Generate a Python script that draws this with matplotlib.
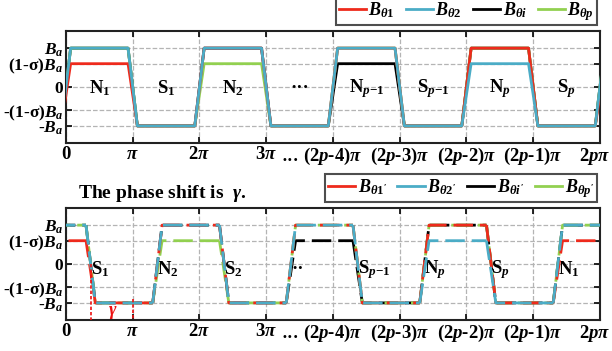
import numpy as np
import matplotlib.pyplot as plt
import matplotlib.transforms as mtransforms
from matplotlib.lines import Line2D

plt.rcParams['font.family'] = 'Liberation Serif'
plt.rcParams['font.weight'] = 'bold'
plt.rcParams['mathtext.fontset'] = 'custom'
plt.rcParams['mathtext.rm'] = 'Liberation Serif:bold'
plt.rcParams['mathtext.it'] = 'Liberation Serif:italic:bold'
plt.rcParams['mathtext.bf'] = 'Liberation Serif:bold'

# pole amplitudes over the 2p half-periods (fraction of B_a, N positive)
sigma_level = 0.6
amp_B1 = [0.6, -1, 1, -1, 1, -1, 1, -1]
amp_B2 = [1, -1, 1, -1, 1, -1, 0.6, -1]
amp_Bi = [1, -1, 1, -1, 0.6, -1, 1, -1]
amp_Bp = [1, -1, 0.6, -1, 1, -1, 1, -1]
gamma = 0.63  # phase shift, in units of pi

xtick_labels = ['0', r'$\pi$', r'2$\pi$', r'3$\pi$', r'(2$p$-4)$\pi$',
                r'(2$p$-3)$\pi$', r'(2$p$-2)$\pi$', r'(2$p$-1)$\pi$', r'2$p\pi$']
ytick_vals = [1, sigma_level, 0, -sigma_level, -1]
ytick_labels = [r'$B_a$', r'(1-σ)$B_a$', '0', r'-(1-σ)$B_a$', r'-$B_a$']

top_poles = ['N$_1$', 'S$_1$', 'N$_2$', '···', r'N$_{p\mathrm{-1}}$',
             r'S$_{p\mathrm{-1}}$', 'N$_p$', 'S$_p$']
bottom_poles = ['S$_1$', 'N$_2$', 'S$_2$', '··', r'S$_{p\mathrm{-1}}$',
                'N$_p$', 'S$_p$', 'N$_1$']

colors = ['#ee2a1c', '#4bacc6', '#000000', '#92d050']
series = [amp_B1, amp_B2, amp_Bi, amp_Bp]
top_names = [r'$B_{\theta1}$', r'$B_{\theta2}$', r'$B_{\theta i}$', r'$B_{\theta p}$']
bottom_names = [r"$B_{\theta1'}$", r"$B_{\theta2'}$", r"$B_{\theta i'}$", r"$B_{\theta p'}$"]

h = 0.07  # half width of a pole transition


def trapezoid(amps, shift=0.0):
    n = len(amps)
    xs, ys = [], []
    for k in range(-1, n + 2):
        a = amps[k % n]
        xs += [k + h - shift, k + 1 - h - shift]
        ys += [a, a]
    return np.array(xs), np.array(ys)


def pole_pieces(amps, shift=0.0):
    # one piece per pole: rising/falling edge followed by the plateau
    n = len(amps)
    for k in range(-1, n + 2):
        prev, a = amps[(k - 1) % n], amps[k % n]
        yield ([k - h - shift, k + h - shift, k + 1 - h - shift],
               [prev, a, a])


def style_axes(ax):
    ax.set_xlim(0, 8)
    ax.set_ylim(-1.44, 1.44)
    ax.set_xticks(range(9))
    ax.set_xticklabels(xtick_labels, fontsize=13.5)
    ax.set_yticks(ytick_vals)
    ax.set_yticklabels(ytick_labels, fontsize=12.5)
    ax.tick_params(direction='in', top=True, right=True, length=4,
                   width=1.2, pad=2)
    ax.grid(True, linestyle='--', color='#b4b4b4', linewidth=0.9)
    for s in ax.spines.values():
        s.set_linewidth(1.5)
        s.set_color('#222222')
    # keep the last tick label inside the figure
    last = ax.get_xticklabels()[-1]
    last.set_transform(last.get_transform() + mtransforms.ScaledTranslation(
        -4 / 72, 0, ax.figure.dpi_scale_trans))
    ax.text(3.36, -0.085, '···', transform=ax.get_xaxis_transform(),
            ha='center', va='top', fontsize=13)


fig = plt.figure(figsize=(6.12, 3.51), dpi=100)
ax1 = fig.add_axes([0.1078, 0.5926, 0.8725, 0.319])
ax2 = fig.add_axes([0.1078, 0.0883, 0.8725, 0.319])

# draw order: black, green, red, then blue on top
order = [2, 3, 0, 1]
for i in order:
    x, y = trapezoid(series[i])
    ax1.plot(x, y, color=colors[i], lw=2, zorder=3 + order.index(i))
for k, name in enumerate(top_poles):
    ax1.text(k + 0.5, -0.03, name, ha='center', va='center', fontsize=13.5)

offsets = [1.0, 0, 0, 1.8]
for i in order:
    for px, py in pole_pieces(series[i], shift=gamma):
        ax2.plot(px, py, color=colors[i], lw=2,
                 linestyle=(offsets[i], (7, 2.5)),
                 zorder=3 + order.index(i))
for k, name in enumerate(bottom_poles):
    ax2.text(k + 1 - gamma, -0.13, name, ha='left', va='center',
             fontsize=13.5)

# phase shift marker
ax2.plot([1 - gamma, 1 - gamma], [0, -1.44], color='#ee1111', lw=1.2,
         linestyle=(0, (2, 1.2)), zorder=8)
ax2.plot([1, 1], [-0.9, -1.44], color='#ee1111', lw=1.2,
         linestyle=(0, (2, 1.2)), zorder=8)
ax2.text(0.7, -1.25, r'$\gamma$', color='#ee1111', fontsize=13,
         ha='center', va='center')

for ax in (ax1, ax2):
    style_axes(ax)

for ax, names in ((ax1, top_names), (ax2, bottom_names)):
    handles = [Line2D([], [], color=c, lw=2) for c in colors]
    leg = ax.legend(handles, names, ncol=4, loc='lower right',
                    bbox_to_anchor=(0.994, 1.05), borderaxespad=0,
                    fontsize=13, handlelength=1.5, handletextpad=0.15,
                    columnspacing=0.6, borderpad=0.15, frameon=True,
                    fancybox=False, edgecolor='#222222')
    leg.get_frame().set_linewidth(1.5)

fig.text(0.128, 0.45, r'The phase shift is  $\gamma$.', fontsize=14,
         ha='left', va='center')

fig.savefig('out.png', dpi=100)
